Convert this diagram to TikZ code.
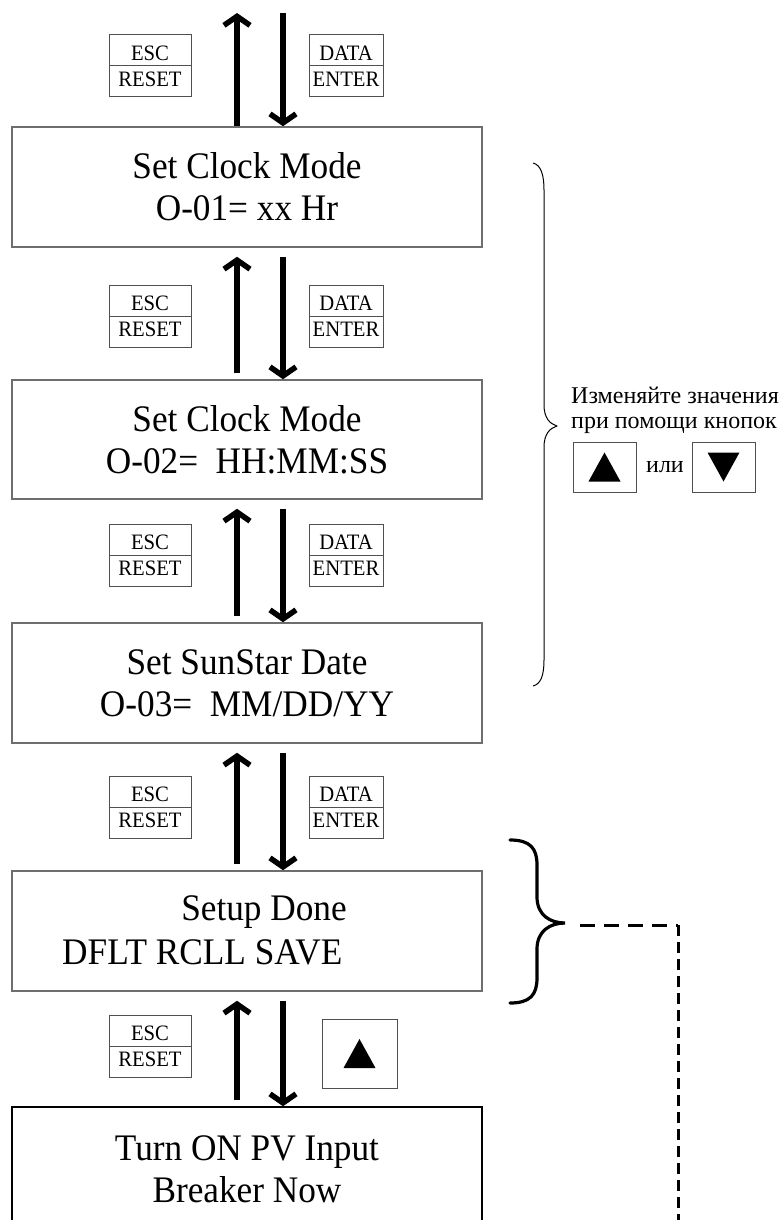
\documentclass[tikz,border=0pt]{standalone}
\usepackage{fontspec}
\setmainfont{Liberation Serif}
\newfontfamily\narrowserif{Liberation Serif}[FakeStretch=0.94]
\usetikzlibrary{arrows.meta}
\definecolor{screenline}{HTML}{6E6E6E}
\definecolor{keyline}{HTML}{505050}
\begin{document}
\begin{tikzpicture}[x=1pt,y=-1pt,
  screen/.style={draw=screenline, line width=1.5pt, minimum width=470pt,
    minimum height=120pt, inner sep=0pt, align=center,
    font=\narrowserif\fontsize{37.5}{42}\selectfont},
  screentext/.style={inner sep=0pt, font=\narrowserif\fontsize{37.5}{42}\selectfont},
  keybox/.style={draw=keyline, line width=1pt, minimum width=#1,
    minimum height=62pt, inner sep=0pt, align=center,
    font=\narrowserif\fontsize{22}{26}\selectfont},
  keybox/.default=82pt,
  btn/.style={draw=keyline, line width=1pt, minimum width=#1,
    minimum height=50pt, inner sep=0pt},
  btn/.default=63pt,
  flow/.style={line width=5.5pt, -{Straight Barb[length=9pt,width=26pt]}},
  thinbrace/.style={line width=1pt, line join=round},
  thickbrace/.style={line width=3.2pt, line cap=round},
  dashline/.style={line width=3pt, dash pattern=on 15pt off 9pt},
  hintfont/.style={font=\fontsize{24}{25}\selectfont},
]
\useasboundingbox (0,0) rectangle (779,1220);
\clip (0,0) rectangle (779,1220);

% menu screens
\node[screen] (s1) at (247,187) {Set Clock Mode\\O-01= xx Hr};
\node[screen, minimum height=119pt] (s2) at (247,439.5) {Set Clock Mode\\O-02=\ \ HH:MM:SS};
\node[screen] (s3) at (247,683) {Set SunStar Date\\O-03=\ \ MM/DD/YY};
\node[screen] (s4) at (247,931) {};
\node[screentext] (s4a) at (264,912) {Setup Done};
\node[screentext, anchor=west] (s4b) at (62,952) {DFLT RCLL SAVE};
\node[screen, draw=black, minimum height=124pt] (s5) at (247,1169) {Turn ON PV Input\\Breaker Now};

% arrows entering and leaving the first screen
\coordinate (t0u) at (237,13);
\coordinate (t0d) at (283,13);
\draw[flow] ([xshift=-10pt]s1.north) -- (t0u);
\draw[flow] (t0d) -- ([xshift=36pt]s1.north);

% arrows between consecutive screens
\foreach \a/\b in {s1/s2,s2/s3,s3/s4,s4/s5}{
  \draw[flow] ([xshift=-10pt,yshift=6pt]\b.north) -- ([xshift=-10pt,yshift=-9pt]\a.south);
  \draw[flow] ([xshift=36pt,yshift=-9pt]\a.south) -- ([xshift=36pt]\b.north);
}

% key labels
\foreach \n/\y in {1/66,2/316.5,3/555.5,4/807,5/1046}{
  \node[keybox] (e\n) at (150,\y) {ESC\\RESET};
  \draw[keyline, line width=1pt] (e\n.west) -- (e\n.east);
}
\foreach \n/\y in {1/66,2/316.5,3/555.5,4/807}{
  \node[keybox=74pt] (d\n) at (346,\y) {DATA\\ENTER};
  \draw[keyline, line width=1pt] (d\n.west) -- (d\n.east);
}
\node[btn=75pt, minimum height=69pt] (upkey) at (359.5,1053.5) {};
\fill ([shift={(-16,14.5)}]upkey.center) -- ([shift={(16,14.5)}]upkey.center)
  -- ([shift={(0,-14.5)}]upkey.center) -- cycle;

% brace over the three settings screens
\coordinate (b1top) at (533,163);
\coordinate (b1tip) at (557,426);
\coordinate (b1bot) at (533,686);
\draw[thinbrace] (b1top) .. controls (541,165) and (544,175) .. (544,190)
  -- (544,405) .. controls (544,418) and (550,424) .. (b1tip)
  .. controls (550,428) and (544,434) .. (544,447)
  -- (544,660) .. controls (544,675) and (541,684) .. (b1bot);

\node[inner sep=0pt, anchor=west, align=left, hintfont]
  (hint) at (571,410) {Изменяйте значения\\при помощи кнопок};
\node[btn] (bup) at (604.5,467) {};
\fill ([shift={(-16,14.5)}]bup.center) -- ([shift={(16,14.5)}]bup.center)
  -- ([shift={(0,-14.5)}]bup.center) -- cycle;
\node[inner sep=0pt, hintfont] (ili) at (665,467) {или};
\node[btn] (bdn) at (723.5,467) {};
\fill ([shift={(-16,-14.5)}]bdn.center) -- ([shift={(16,-14.5)}]bdn.center)
  -- ([shift={(0,14.5)}]bdn.center) -- cycle;

% brace over the setup-done screen and dashed continuation
\coordinate (b2top) at (510,840);
\coordinate (b2tip) at (565,923);
\coordinate (b2bot) at (510,1003);
\draw[thickbrace] (b2top) .. controls (530,840) and (537,848) .. (537,865)
  -- (537,897) .. controls (537,915) and (550,923) .. (b2tip)
  .. controls (550,923) and (537,931) .. (537,949)
  -- (537,978) .. controls (537,995) and (530,1003) .. (b2bot);
\coordinate (dstart) at (580,925);
\coordinate (dcorner) at (678,925);
\coordinate (dend) at (678,1225);
\draw[dashline] (dstart) -- (dcorner);
\draw[dashline, dash pattern=on 11pt off 6pt] (dcorner) -- (dend);
\end{tikzpicture}
\end{document}
